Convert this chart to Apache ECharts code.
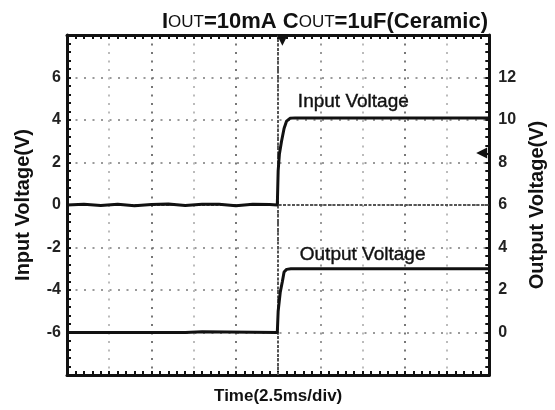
<!DOCTYPE html>
<html>
<head>
<meta charset="utf-8">
<script src="https://cdn.jsdelivr.net/npm/echarts@6/dist/echarts.min.js"></script>
<style>
  html, body { margin: 0; padding: 0; background: #fff; }
  #main { width: 555px; height: 410px; }
</style>
</head>
<body>
<div id="main"></div>
<script>
// time in divisions (2.5ms/div), 10 divisions on screen
var inputTime = [0, 0.4, 0.8, 1.2, 1.6, 2.0, 2.4, 2.8, 3.2, 3.6, 4.0, 4.4, 4.8, 4.98, 5.0, 5.03, 5.08, 5.14, 5.2, 5.28, 5.4, 10];
var inputVolt = [0, 0.03, -0.02, 0.04, -0.03, 0.02, 0.05, -0.02, 0.04, 0.03, -0.03, 0.04, 0.02, 0, 1.6, 2.4, 3.0, 3.6, 3.95, 4.08, 4.1, 4.1];
var outputTime = [0, 2.8, 3.2, 4.98, 5.0, 5.05, 5.1, 5.14, 5.2, 5.3, 10];
var outputVolt = [0, 0, 0.03, 0, 1.0, 1.9, 2.4, 2.85, 2.97, 3.0, 3.0];
var inputTicks = [-8, -6, -4, -2, 0, 2, 4, 6, 8];
var outputTicks = [-2, 0, 2, 4, 6, 8, 10, 12, 14];

function zip(xs, ys) {
    return xs.map(function (x, i) { return [x, ys[i]]; });
}

var font = 'Liberation Sans, Arial, sans-serif';
var vGridColors = ['#000', '#bbb', '#777', '#bbb', '#777', '#555', '#999', '#bbb', '#777', '#bbb', '#000'];

var tickStyle = {
    show: true, inside: true, length: 4,
    lineStyle: { color: '#111', width: 2 }
};
var minorStyle = {
    show: true, splitNumber: 5, length: 4,
    lineStyle: { color: '#111', width: 2 }
};
var borderLine = { show: true, onZero: false, lineStyle: { color: '#111', width: 3 } };

// invisible anchor for the text labels on the traces
function textMark(coord, text, dy) {
    return {
        coord: coord, symbol: 'circle', symbolSize: 1,
        itemStyle: { color: 'rgba(0,0,0,0)' },
        label: { show: true, position: 'inside', formatter: text, offset: [0, dy],
                 fontFamily: font, fontSize: 19, color: '#111',
                 textBorderColor: '#111', textBorderWidth: 0.4 }
    };
}

var myChart = echarts.init(document.getElementById('main'));

var option = {
    backgroundColor: '#fff',
    animation: false,
    title: {
        text: '{b|I}{s|OUT}{b|=10mA C}{s|OUT}{b|=1uF(Ceramic)}',
        right: 62,
        top: 6,
        textStyle: {
            rich: {
                b: { fontFamily: font, fontSize: 22, fontWeight: 'bold', color: '#111' },
                s: { fontFamily: font, fontSize: 17, fontWeight: 'normal', color: '#111' }
            }
        }
    },
    grid: { left: 67, right: 62, top: 35, bottom: 35 },
    xAxis: [{
        type: 'value', position: 'bottom', min: 0, max: 10, interval: 1,
        name: 'Time(2.5ms/div)', nameLocation: 'middle', nameGap: 13,
        nameTextStyle: { fontFamily: font, fontSize: 17, fontWeight: 'bold', color: '#111' },
        axisLine: borderLine,
        axisTick: tickStyle,
        minorTick: minorStyle,
        axisLabel: { show: false },
        splitLine: { show: true, lineStyle: { color: vGridColors, width: 2, type: [2, 6.5] } }
    }, {
        type: 'value', position: 'top', min: 0, max: 10, interval: 1,
        axisLine: borderLine,
        axisTick: tickStyle,
        minorTick: minorStyle,
        axisLabel: { show: false },
        splitLine: { show: false }
    }],
    yAxis: [{
        type: 'value', position: 'left',
        min: inputTicks[0], max: inputTicks[inputTicks.length - 1], interval: 2,
        name: 'Input Voltage(V)', nameLocation: 'middle', nameGap: 34, nameRotate: 90,
        nameTextStyle: { fontFamily: font, fontSize: 20, fontWeight: 'bold', color: '#111' },
        axisLine: borderLine,
        axisTick: tickStyle,
        minorTick: minorStyle,
        axisLabel: {
            showMinLabel: false, showMaxLabel: false, margin: 6,
            fontFamily: font, fontSize: 16, fontWeight: 'bold', color: '#222'
        },
        splitLine: { show: true, lineStyle: { color: '#9a9a9a', width: 2, type: [2, 6.5] } }
    }, {
        type: 'value', position: 'right',
        min: outputTicks[0], max: outputTicks[outputTicks.length - 1], interval: 2,
        name: 'Output Voltage(V)', nameLocation: 'middle', nameGap: 34, nameRotate: 90,
        nameTextStyle: { fontFamily: font, fontSize: 20, fontWeight: 'bold', color: '#111' },
        axisLine: borderLine,
        axisTick: tickStyle,
        minorTick: minorStyle,
        axisLabel: {
            showMinLabel: false, showMaxLabel: false, margin: 9,
            fontFamily: font, fontSize: 16, fontWeight: 'bold', color: '#222'
        },
        splitLine: { show: false }
    }],
    series: [{
        name: 'Input Voltage',
        type: 'line',
        xAxisIndex: 0, yAxisIndex: 0,
        data: zip(inputTime, inputVolt),
        showSymbol: false,
        lineStyle: { color: '#111', width: 3 },
        z: 5,
        markLine: {
            silent: true, symbol: 'none', label: { show: false },
            lineStyle: { color: '#555', width: 2, type: [3, 1.5] },
            data: [{ xAxis: 5 }, { yAxis: 0 }]
        },
        markPoint: {
            silent: true,
            data: [
                textMark([6.78, 4.1], 'Input Voltage', -16),
                { coord: [5.1, 7.75], symbol: 'triangle', symbolSize: 11, symbolRotate: 180,
                  itemStyle: { color: '#111' }, label: { show: false } },
                { coord: [9.82, 2.45], symbol: 'triangle', symbolSize: 11, symbolRotate: 90,
                  itemStyle: { color: '#111' }, label: { show: false } }
            ]
        }
    }, {
        name: 'Output Voltage',
        type: 'line',
        xAxisIndex: 0, yAxisIndex: 1,
        data: zip(outputTime, outputVolt),
        showSymbol: false,
        lineStyle: { color: '#111', width: 3 },
        z: 5,
        markPoint: {
            silent: true,
            data: [ textMark([7.0, 3.0], 'Output Voltage', -14) ]
        }
    }]
};

myChart.setOption(option);
</script>
</body>
</html>
